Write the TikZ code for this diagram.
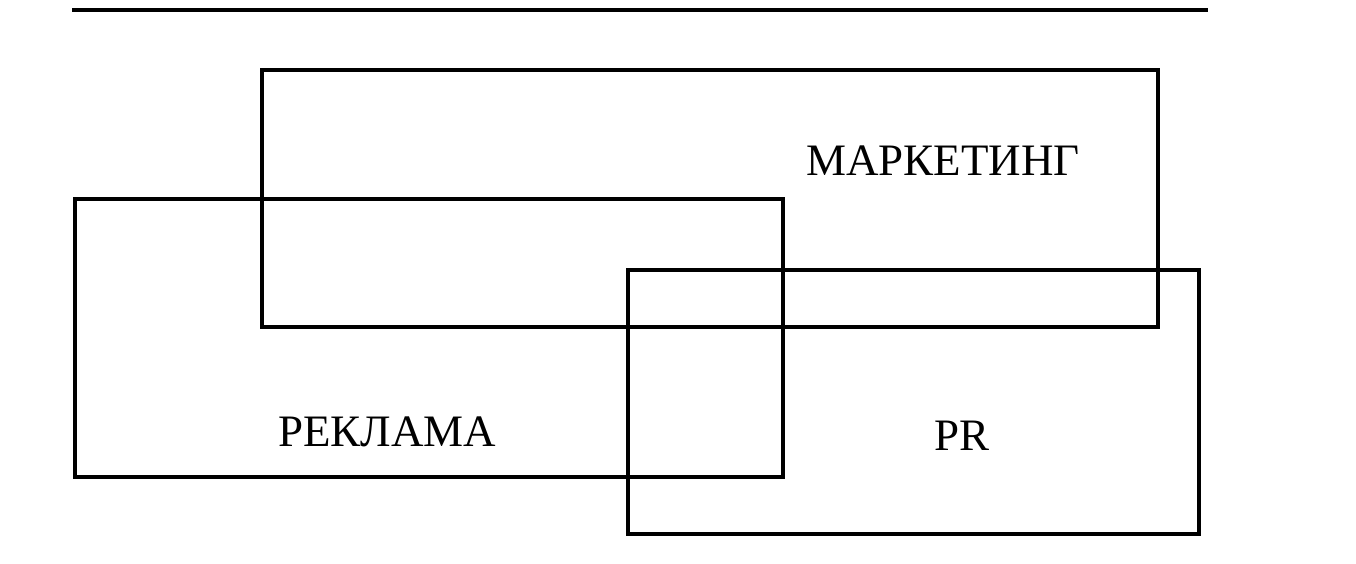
\documentclass[tikz,border=0pt]{standalone}
\usepackage{fontspec}
\setmainfont{Liberation Serif}
\usetikzlibrary{positioning}
\begin{document}
\begin{tikzpicture}[
	                  x = 0.02cm,
	                  y = -0.02cm,
	       field/.style = {draw, line width=2.2pt, inner sep=0pt, outer sep=0pt},
	    fieldlbl/.style = {font=\fontsize{25.6}{30}\selectfont, inner sep=0pt}
	                   ]
	\useasboundingbox (0,0) rectangle (1356,564);
	% top rule of the page
	\coordinate (r0) at (72,10);
	\coordinate (r1) at (1208,10);
	\draw[line width=1.8pt] (r0) -- (r1);
	% the three fields
	\node[field, minimum width=17.92cm, minimum height=5.14cm] (mkt)  at (710,198.5) {};
	\node[field, minimum width=14.16cm, minimum height=5.56cm] (rekl) at (429,338) {};
	\node[field, minimum width=11.42cm, minimum height=5.28cm] (pr)   at (913.5,402) {};
	% labels
	\node[fieldlbl] (tmkt)  at (943,161) {МАРКЕТИНГ};
	\node[fieldlbl] (trekl) at (387,432) {РЕКЛАМА};
	\node[fieldlbl] (tpr)   at (962,436) {PR};
\end{tikzpicture}
\end{document}
